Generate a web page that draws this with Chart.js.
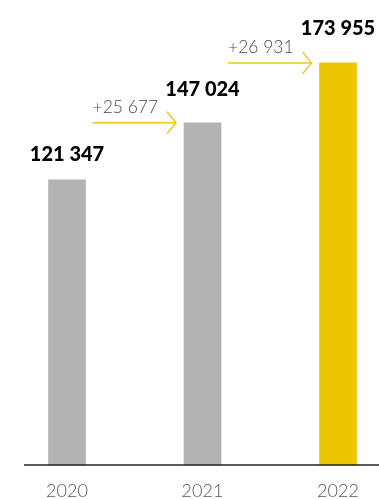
<!DOCTYPE html>
<html>
<head>
<meta charset="utf-8">
<script src="https://cdn.jsdelivr.net/npm/chart.js@4/dist/chart.umd.min.js"></script>
<style>
  html, body { margin: 0; padding: 0; background: #fff; }
  #wrap { width: 379px; height: 499px; }
</style>
</head>
<body>
<div id="wrap"><canvas id="chartCanvas" width="379" height="499"></canvas></div>
<script>
const years = ["2020", "2021", "2022"];
const totals = [121347, 147024, 173955];
const deltas = [25677, 26931];
const barColors = ["#b3b3b3", "#b3b3b3", "#edc500"];
const yMin = -7000;
const yMax = 191000;

function fmt(n) {
    return String(n).replace(/\B(?=(\d{3})+(?!\d))/g, " ");
}

// labels above bars + yellow arrows with the yearly increase
const annotatePlugin = {
    id: 'annotatePlugin',
    afterDatasetsDraw: function(chart) {
        const ctx = chart.ctx;
        const meta = chart.getDatasetMeta(0);
        const lift = [19, 27, 28];

        ctx.save();
        ctx.fillStyle = "#000";
        ctx.font = "900 20px Lato";
        ctx.textAlign = "center";
        ctx.textBaseline = "alphabetic";
        meta.data.forEach(function(bar, i) {
            ctx.fillText(fmt(totals[i]), bar.x, bar.y - lift[i]);
        });

        deltas.forEach(function(d, i) {
            const prev = meta.data[i];
            const next = meta.data[i + 1];
            const x0 = prev.x + prev.width / 2 + 7;
            const x1 = next.x - next.width / 2 - 8;
            const y = next.y;

            ctx.strokeStyle = "#efc81a";
            ctx.lineWidth = 1.5;
            ctx.beginPath();
            ctx.moveTo(x0, y);
            ctx.lineTo(x1, y);
            ctx.moveTo(x1 - 9, y - 11);
            ctx.lineTo(x1, y);
            ctx.lineTo(x1 - 9, y + 11);
            ctx.stroke();

            ctx.fillStyle = "#4a4a4a";
            ctx.font = "300 17.5px Lato";
            ctx.textAlign = "left";
            ctx.fillText("+" + fmt(d), x0, y - 10);
        });

        // baseline
        const yb = chart.scales.y.getPixelForValue(yMin);
        ctx.strokeStyle = "#222";
        ctx.lineWidth = 1.5;
        ctx.beginPath();
        ctx.moveTo(24, yb);
        ctx.lineTo(chart.width, yb);
        ctx.stroke();
        ctx.restore();
    }
};

new Chart(document.getElementById("chartCanvas").getContext("2d"), {
    type: "bar",
    data: {
        labels: years,
        datasets: [{
            data: totals,
            backgroundColor: barColors,
            base: yMin,
            barThickness: 37,
            borderWidth: 0,
            clip: false
        }]
    },
    options: {
        responsive: false,
        animation: false,
        layout: { padding: { top: 25, left: 67, right: 41, bottom: 0 } },
        plugins: {
            legend: { display: false },
            tooltip: { enabled: false }
        },
        scales: {
            x: {
                offset: false,
                grid: { display: false, drawTicks: false },
                border: { display: false },
                ticks: {
                    color: "#555",
                    font: { family: "Lato", size: 18, weight: "300" },
                    padding: 15
                },
                afterFit: function(scale) {
                    scale.height = 34;
                }
            },
            y: {
                display: false,
                min: yMin,
                max: yMax
            }
        }
    },
    plugins: [annotatePlugin]
});
</script>
</body>
</html>
